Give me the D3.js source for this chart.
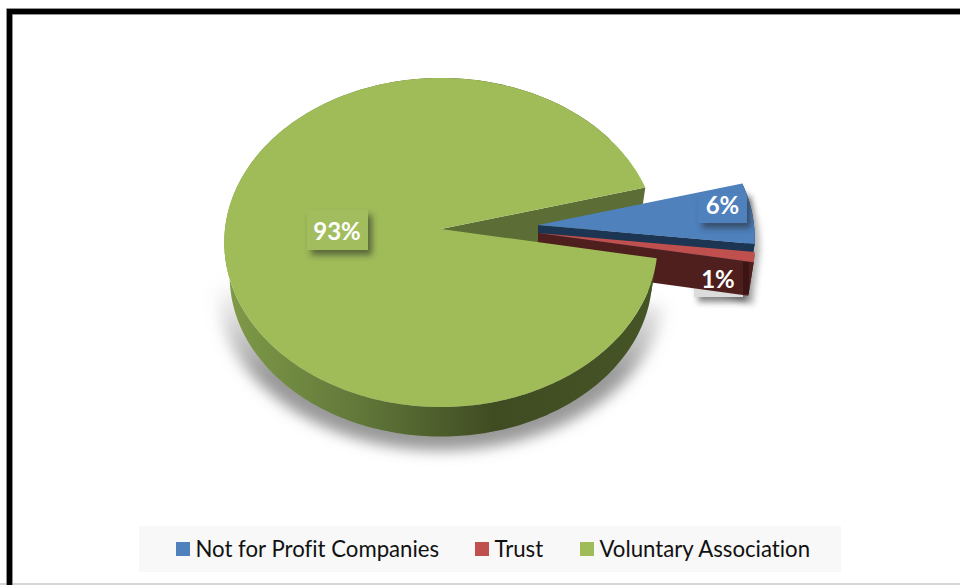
<!DOCTYPE html>
<html><head><meta charset="utf-8">
<script src="https://cdnjs.cloudflare.com/ajax/libs/d3/7.8.5/d3.min.js"></script>
<style>html,body{margin:0;padding:0;background:#fff}svg{display:block}text{font-family:Lato,"Open Sans",sans-serif;font-variant-ligatures:none}</style>
</head><body><svg id="c" width="960" height="585"></svg>
<script>
const categories = ["Not for Profit Companies", "Trust", "Voluntary Association"];
const values = [6, 1, 93];
const labels = ["6%", "1%", "93%"];
const colors = ["#4f81bd", "#c0504d", "#9fbc59"];
const wallColors = ["#1b3553", "#4f1f1e", "#5c6e35"];

const svg = d3.select("#c");
const defs = svg.append("defs");
const W = 960, H = 585;

svg.append("rect").attr("width", W).attr("height", H).attr("fill", "#fff");
svg.append("line").attr("x1",0).attr("x2",W).attr("y1",584).attr("y2",584).attr("stroke","#c8c8c8").attr("stroke-width",1.5);
svg.append("path").attr("d","M9.5,585V11.5H960").attr("fill","none").attr("stroke","#c4c4c4").attr("stroke-width",7);
svg.append("path").attr("d","M9.5,585V11.5H960").attr("fill","none").attr("stroke","#000").attr("stroke-width",5.5);

// disc projection (slight perspective)
const R = 216, T = 163.4, K = 0.082, DEPTH = 34, SHRINK = 0.975;
const rad = Math.PI / 180;
const pie = d3.pie().sort(null).startAngle(75 * rad).endAngle(435 * rad);
const arcs = pie(values);
const apex = [[538,225],[538,233],[441,229]];

function proj(a, ap, bottom) {
  const X = Math.sin(a), Y = -Math.cos(a), s = 1 / (1 - K * Y), f = bottom ? SHRINK : 1;
  return [ap[0] + R * X * s * f, ap[1] + T * Y * s * f + (bottom ? DEPTH : 0)];
}
function arcPts(a0, a1, ap, bottom) {
  const n = Math.max(2, Math.ceil((a1 - a0) / rad));
  return d3.range(n + 1).map(i => proj(a0 + (a1 - a0) * i / n, ap, bottom));
}
const line = d3.line();
const bot = p => [p[0], p[1] + DEPTH];
const wedge = (d, ap) => line([ap, ...arcPts(d.startAngle, d.endAngle, ap, false)]) + "Z";
const wedgeBottom = (d, ap) => line([bot(ap), ...arcPts(d.startAngle, d.endAngle, ap, true)]) + "Z";
const rim = (a0, a1, ap) => line([...arcPts(a0, a1, ap, false), ...arcPts(a0, a1, ap, true).reverse()]) + "Z";
const cutWall = (a, ap) => line([ap, proj(a, ap, false), proj(a, ap, true), bot(ap)]) + "Z";

// filters and gradients
const blur = (id, s) => defs.append("filter").attr("id", id).attr("x","-30%").attr("y","-30%").attr("width","160%").attr("height","160%")
  .append("feGaussianBlur").attr("stdDeviation", s);
blur("b8", 7); blur("b3", 3); blur("b2", 2);
const sg = defs.append("linearGradient").attr("id","sh").attr("gradientUnits","userSpaceOnUse").attr("x1",0).attr("x2",0).attr("y1",265).attr("y2",360);
sg.append("stop").attr("offset",0).attr("stop-color","#999").attr("stop-opacity",0);
sg.append("stop").attr("offset",1).attr("stop-color","#777").attr("stop-opacity",.75);
const rg = defs.append("linearGradient").attr("id","rimG").attr("gradientUnits","userSpaceOnUse").attr("x1",224).attr("x2",660).attr("y1",0).attr("y2",0);
[[0,"#809b48"],[.3,"#62793a"],[.62,"#3f4c22"],[1,"#465526"]].forEach(s => rg.append("stop").attr("offset",s[0]).attr("stop-color",s[1]));

const [blue, red, green] = arcs;
const [aB, aR, aG] = apex;

// soft shadows
svg.append("path").attr("d", wedgeBottom(green, aG))
  .attr("transform",`translate(${aG[0]},14) scale(1.055,1) translate(${-aG[0]},0)`)
  .attr("fill","url(#sh)").attr("filter","url(#b8)");
svg.append("path").attr("d", line([aB, ...arcPts(blue.startAngle, blue.endAngle, aB, false), ...arcPts(red.startAngle, red.endAngle, aR, true)]) + "Z")
  .attr("transform","translate(5,9)").attr("fill","#777").attr("opacity",.55).attr("filter","url(#b3)");

// green cut wall
svg.append("path").attr("d", cutWall(green.endAngle, aG)).attr("fill", wallColors[2]);
svg.append("path").attr("d", cutWall(green.startAngle, aG)).attr("fill", wallColors[2]);

// blue slice
svg.append("path").attr("d", cutWall(blue.endAngle, aB)).attr("fill", wallColors[0]);
svg.append("path").attr("d", rim(blue.startAngle, blue.endAngle, aB)).attr("fill", wallColors[0]);
svg.append("path").attr("d", wedge(blue, aB)).attr("fill", colors[0]);

// 1% label box lies partly under the red slice wall
function box(x, y, w, h, fill) {
  svg.append("rect").attr("x",x+4).attr("y",y+5).attr("width",w).attr("height",h).attr("fill","#222").attr("opacity",.55).attr("filter","url(#b3)");
  svg.append("rect").attr("x",x).attr("y",y).attr("width",w).attr("height",h).attr("fill",fill);
}
box(694, 266, 49, 31, "#dcdcdc");

// red slice
svg.append("path").attr("d", cutWall(red.endAngle, aR)).attr("fill", wallColors[1]);
svg.append("path").attr("d", rim(red.startAngle, red.endAngle, aR)).attr("fill", wallColors[1]);
svg.append("rect").attr("x",743).attr("y",262).attr("width",6).attr("height",32).attr("fill","#3a1514");
svg.append("path").attr("d", wedge(red, aR)).attr("fill", colors[1]);

// green slice
svg.append("path").attr("d", rim(green.startAngle, green.endAngle - 20*rad, aG)).attr("fill","url(#rimG)");
svg.append("path").attr("d", wedge(green, aG)).attr("fill", colors[2]);

// data labels
box(698, 193, 49, 30, "#4f81bd");
box(307, 210, 61, 40, "#a1bd5d");
const labelPos = [[722.5,214],[718,288],[337,240]];
svg.selectAll("text.dl").data(labels).join("text").attr("class","dl")
  .attr("x",(d,i)=>labelPos[i][0]).attr("y",(d,i)=>labelPos[i][1])
  .attr("text-anchor","middle").attr("fill","#fff").attr("font-size",24).attr("font-weight",700).text(d=>d);

// legend
svg.append("rect").attr("x",139).attr("y",526).attr("width",702).attr("height",46).attr("fill","#f8f8f8");
const legendX = [176,475,580];
const lg = svg.selectAll("g.lg").data(categories).join("g").attr("class","lg").attr("transform",(d,i)=>`translate(${legendX[i]},542)`);
lg.append("rect").attr("width",14).attr("height",14).attr("fill",(d,i)=>colors[i]);
lg.append("text").attr("x",19.5).attr("y",14.5).attr("font-size",22.2).attr("fill","#111").text(d=>d);
</script></body></html>
